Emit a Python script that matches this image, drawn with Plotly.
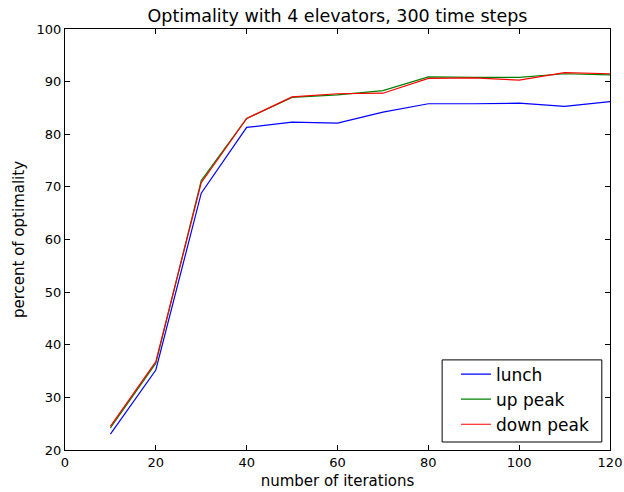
import plotly.graph_objects as go

iterations = [10, 20, 30, 40, 50, 60, 70, 80, 90, 100, 110, 120]
lunch = [23.0, 35.2, 68.8, 81.3, 82.3, 82.1, 84.2, 85.8, 85.8, 85.9, 85.3, 86.2]
up_peak = [24.2, 36.5, 71.2, 83.0, 87.0, 87.5, 88.3, 90.9, 90.8, 90.8, 91.5, 91.3]
down_peak = [24.5, 36.8, 70.8, 83.0, 87.1, 87.7, 87.8, 90.6, 90.7, 90.3, 91.7, 91.5]

x_ticks = [0, 20, 40, 60, 80, 100, 120]
y_ticks = [20, 30, 40, 50, 60, 70, 80, 90, 100]

fig = go.Figure()
for name, vals, color in [("lunch", lunch, "#0000ff"),
                          ("up peak", up_peak, "#008000"),
                          ("down peak", down_peak, "#ff0000")]:
    fig.add_trace(go.Scatter(x=iterations, y=vals, mode="lines", name=name,
                             line=dict(color=color, width=1.2)))

# legend frame (matplotlib-like box)
fig.add_shape(type="rect", xref="paper", yref="paper",
              x0=0.692, x1=0.985, y0=0.019, y1=0.214,
              line=dict(color="black", width=1), fillcolor="white", layer="above")

font = "DejaVu Sans, sans-serif"
fig.update_layout(
    width=624, height=492,
    margin=dict(l=65, r=14, t=29, b=42, autoexpand=False),
    plot_bgcolor="white", paper_bgcolor="white",
    font=dict(family=font, size=13, color="black"),
    title=dict(text="Optimality with 4 elevators, 300 time steps", x=0.5, xref="paper",
               xanchor="center", y=1 - 16 / 492, yanchor="middle",
               font=dict(size=17.5), automargin=False),
    showlegend=True,
    legend=dict(x=0.7174, y=0.12, xanchor="left", yanchor="middle",
                borderwidth=0, bgcolor="rgba(0,0,0,0)",
                font=dict(size=17), tracegroupgap=0),
    xaxis=dict(range=[0, 120], tickvals=x_ticks, showgrid=False, zeroline=False,
               showline=True, linecolor="black", linewidth=1, mirror="allticks",
               ticks="inside", ticklen=5, tickcolor="black", automargin=False,
               title=dict(text="number of iterations", font=dict(size=15), standoff=6)),
    yaxis=dict(range=[20, 100], tickvals=y_ticks, showgrid=False, zeroline=False,
               showline=True, linecolor="black", linewidth=1, mirror="allticks",
               ticks="inside", ticklen=5, tickcolor="black", automargin=False,
               title=dict(text="percent of optimality", font=dict(size=15), standoff=8)),
)
fig.write_html("out.html", config={"displayModeBar": False},
               post_script="document.body.style.margin='0';document.body.style.padding='0';")
